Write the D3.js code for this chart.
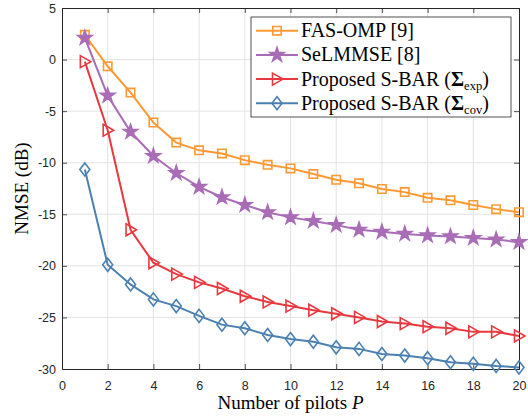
<html>
<head>
<meta charset="utf-8">
<script src="https://d3js.org/d3.v7.min.js"></script>
<style>
body {margin: 0; background: white;}
.tick text {font-family: "Liberation Sans", Arial, sans-serif; font-size: 12.5px; fill: #262626;}
.lab {font-family: "Liberation Serif", "Times New Roman", serif; fill: #000;}
</style>
</head>
<body>
<svg width="528" height="418"></svg>
<script>

var pilots = [1,2,3,4,5,6,7,8,9,10,11,12,13,14,15,16,17,18,19,20];

var fasOmp = [2.4,-0.65,-3.2,-6.1,-8.05,-8.8,-9.1,-9.75,-10.2,-10.55,-11.1,-11.65,-12.0,-12.55,-12.85,-13.4,-13.65,-14.1,-14.5,-14.8];
var selmmse = [2.1,-3.5,-7.0,-9.35,-11.0,-12.35,-13.35,-14.1,-14.8,-15.3,-15.65,-16.05,-16.5,-16.7,-16.9,-17.05,-17.15,-17.3,-17.45,-17.7];
var sbarExp = [-0.2,-6.85,-16.5,-19.7,-20.8,-21.6,-22.2,-22.95,-23.5,-23.9,-24.3,-24.65,-25.0,-25.4,-25.6,-25.9,-26.05,-26.4,-26.4,-26.8];
var sbarCov = [-10.65,-19.9,-21.8,-23.25,-23.9,-24.85,-25.7,-26.05,-26.7,-27.1,-27.35,-27.9,-28.05,-28.55,-28.7,-28.95,-29.35,-29.5,-29.7,-29.85];

var xTicks = [0,2,4,6,8,10,12,14,16,18,20];
var yTicks = [-30,-25,-20,-15,-10,-5,0,5];

var mLeft = 62, mRight = 519, mTop = 8, mBottom = 369;
var W = mRight - mLeft, H = mBottom - mTop;

var x = d3.scaleLinear().domain([0,20]).range([0,W]);
var y = d3.scaleLinear().domain([-30,5]).range([H,0]);

var svg = d3.select('svg');
var g = svg.append('g').attr('transform','translate('+mLeft+','+mTop+')');

// grid
g.append('g').selectAll('line').data(xTicks.slice(1,-1)).enter().append('line')
  .attr('x1', function(d){return x(d);}).attr('x2', function(d){return x(d);})
  .attr('y1', 0).attr('y2', H)
  .attr('stroke', '#e3e3e3').attr('stroke-width', 1);
g.append('g').selectAll('line').data(yTicks.slice(1,-1)).enter().append('line')
  .attr('y1', function(d){return y(d);}).attr('y2', function(d){return y(d);})
  .attr('x1', 0).attr('x2', W)
  .attr('stroke', '#e3e3e3').attr('stroke-width', 1);

// axes, ticks pointing inward
var fmt = function(d){return String(d);};
var ax = g.append('g').attr('transform','translate(0,'+H+')')
  .call(d3.axisBottom(x).tickValues(xTicks).tickSize(-5).tickPadding(12).tickFormat(fmt));
var ay = g.append('g')
  .call(d3.axisLeft(y).tickValues(yTicks).tickSize(-5).tickPadding(6).tickFormat(fmt));
var at = g.append('g')
  .call(d3.axisTop(x).tickValues(xTicks).tickSize(-5).tickFormat(''));
var ar = g.append('g').attr('transform','translate('+W+',0)')
  .call(d3.axisRight(y).tickValues(yTicks).tickSize(-5).tickFormat(''));
[ax,ay,at,ar].forEach(function(a){
  a.selectAll('path,line').attr('stroke','#262626').attr('stroke-width',0.8);
  a.select('.domain').attr('stroke-width',1);
});

// markers
function square(s){return 'M'+(-s)+','+(-s)+'H'+s+'V'+s+'H'+(-s)+'Z';}
function triRight(){return 'M-4.5,-6L6,0L-4.5,6Z';}
function diamond(){return 'M0,-6.5L5,0L0,6.5L-5,0Z';}
var star = d3.symbol().type(d3.symbolStar).size(62)();

var series = [
  {name:'fas', vals:fasOmp, color:'#ff9a33', mark:square(4.2), fill:'none', label:['FAS-OMP [9]']},
  {name:'sel', vals:selmmse, color:'#a96cb6', mark:star, fill:'#a96cb6', label:['SeLMMSE [8]']},
  {name:'exp', vals:sbarExp, color:'#e8393f', mark:triRight(), fill:'none', label:['Proposed S-BAR (','exp',')']},
  {name:'cov', vals:sbarCov, color:'#4b80b1', mark:diamond(), fill:'none', label:['Proposed S-BAR (','cov',')']}
];

var line = d3.line().x(function(d){return x(d[0]);}).y(function(d){return y(d[1]);});

series.forEach(function(s){
  var pts = pilots.map(function(p,i){return [p, s.vals[i]];});
  g.append('path').datum(pts).attr('d', line)
    .attr('fill','none').attr('stroke', s.color).attr('stroke-width', 2);
  g.append('g').selectAll('path').data(pts).enter().append('path')
    .attr('d', s.mark)
    .attr('transform', function(d){return 'translate('+x(d[0])+','+y(d[1])+')';})
    .attr('fill', s.fill).attr('stroke', s.color).attr('stroke-width', 1.6);
});

// axis labels
svg.append('text').attr('class','lab')
  .attr('x', (mLeft+mRight)/2).attr('y', 409)
  .attr('text-anchor','middle').attr('font-size', 19)
  .html('Number of pilots <tspan font-style="italic">P</tspan>');

svg.append('text').attr('class','lab')
  .attr('transform','translate(28,'+((mTop+mBottom)/2)+') rotate(-90)')
  .attr('text-anchor','middle').attr('font-size', 19)
  .text('NMSE (dB)');

// legend
var lg = svg.append('g').attr('transform','translate(251,17)');
lg.append('rect').attr('width', 260).attr('height', 100)
  .attr('fill','white').attr('stroke','#262626').attr('stroke-width',0.8);

series.forEach(function(s,i){
  var yy = 13.7 + i*24.2;
  lg.append('line').attr('x1',5).attr('x2',47).attr('y1',yy).attr('y2',yy)
    .attr('stroke', s.color).attr('stroke-width', 2);
  lg.append('path').attr('d', s.mark).attr('transform','translate(26,'+yy+')')
    .attr('fill', s.fill).attr('stroke', s.color).attr('stroke-width', 1.6);
  var t = lg.append('text').attr('class','lab').attr('x', 50).attr('y', yy+6.5)
    .attr('font-size', 20);
  if (s.label.length === 1) {
    t.text(s.label[0]);
  } else {
    t.append('tspan').text(s.label[0]);
    t.append('tspan').attr('font-weight','bold').text('\u03A3');
    t.append('tspan').attr('font-size', 12.5).attr('dy', 4).text(s.label[1]);
    t.append('tspan').attr('dy', -4).text(s.label[2]);
  }
});

</script>
</body>
</html>
